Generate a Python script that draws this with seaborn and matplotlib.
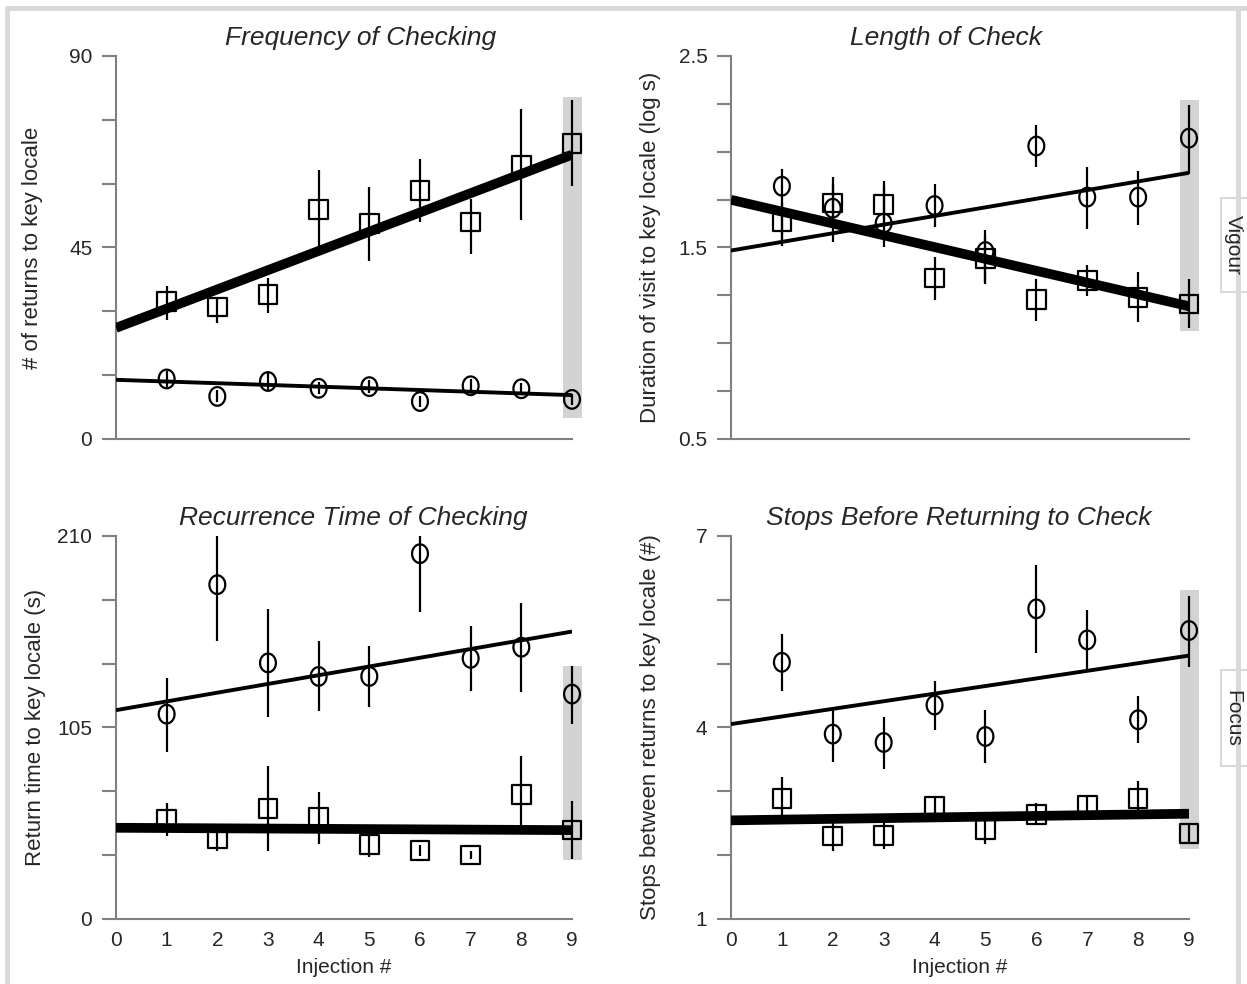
import numpy as np
import pandas as pd
import seaborn as sns
import matplotlib.pyplot as plt
from matplotlib.path import Path
from matplotlib.lines import Line2D
from matplotlib.patches import Rectangle

# Injection number for every plotted session
injection = [1, 2, 3, 4, 5, 6, 7, 8, 9]

# Frequency of checking (# of returns to key locale)
freq_sq = [32.3, 31.0, 33.9, 53.9, 50.7, 58.4, 51.0, 64.4, 69.5]
freq_sq_lo = [28.0, 27.2, 29.6, 45.1, 41.9, 51.0, 43.5, 51.4, 59.4]
freq_sq_hi = [35.9, 33.3, 37.9, 63.1, 59.3, 65.9, 56.4, 77.5, 79.6]
freq_ci = [14.1, 10.0, 13.5, 11.9, 12.3, 8.8, 12.5, 11.8, 9.3]
freq_ci_lo = [12.2, 8.6, 11.6, 10.5, 10.8, 7.6, 11.0, 10.4, 8.0]
freq_ci_hi = [16.0, 11.4, 15.4, 13.3, 13.8, 10.0, 14.0, 13.2, 10.6]
freq_fit_sq = [26.1, 66.8]
freq_fit_ci = [13.9, 10.3]
freq_band = [4.9, 80.4]

# Length of check (log s)
len_sq = [1.636, 1.732, 1.723, 1.340, 1.441, 1.228, 1.327, 1.240, 1.205]
len_sq_lo = [1.53, 1.63, 1.62, 1.226, 1.32, 1.115, 1.249, 1.110, 1.080]
len_sq_hi = [1.74, 1.83, 1.82, 1.449, 1.56, 1.336, 1.411, 1.371, 1.336]
len_ci = [1.820, 1.705, 1.627, 1.719, 1.479, 2.030, 1.763, 1.763, 2.071]
len_ci_lo = [1.510, 1.528, 1.502, 1.606, 1.310, 1.920, 1.597, 1.618, 1.885]
len_ci_hi = [1.908, 1.867, 1.847, 1.829, 1.589, 2.141, 1.920, 1.897, 2.242]
len_fit_sq = [1.749, 1.193]
len_fit_ci = [1.484, 1.890]
len_band = [1.063, 2.268]

# Recurrence time of checking (s)
rec_sq = [54.6, 44.0, 60.7, 55.5, 40.9, 37.6, 35.0, 68.4, 48.7]
rec_sq_lo = [45.4, 37.0, 37.2, 40.9, 34.1, 34.5, 33.0, 46.4, 33.0]
rec_sq_hi = [63.4, 52.0, 83.9, 69.6, 46.4, 40.5, 37.0, 89.4, 64.7]
rec_ci = [112.3, 183.3, 140.4, 133.0, 133.0, 200.3, 142.9, 149.0, 123.3]
rec_ci_lo = [91.8, 152.6, 111.0, 113.8, 116.0, 168.2, 124.8, 124.2, 106.8]
rec_ci_hi = [132.1, 210.0, 169.7, 152.6, 149.9, 210.0, 160.9, 173.4, 138.9]
rec_fit_sq = [50.0, 48.7]
rec_fit_ci = [114.5, 157.6]
rec_band = [32.3, 138.9]

# Stops before returning to check (#)
stop_sq = [2.885, 2.299, 2.309, 2.770, 2.403, 2.639, 2.780, 2.890, 2.340]
stop_sq_lo = [2.613, 2.063, 2.10, 2.613, 2.18, 2.482, 2.613, 2.639, 2.20]
stop_sq_hi = [3.225, 2.53, 2.52, 2.927, 2.62, 2.822, 2.943, 3.162, 2.48]
stop_ci = [5.021, 3.896, 3.765, 4.351, 3.859, 5.859, 5.372, 4.121, 5.519]
stop_ci_lo = [4.576, 3.461, 3.356, 3.964, 3.450, 5.163, 4.917, 3.749, 4.943]
stop_ci_hi = [5.466, 4.288, 4.168, 4.733, 4.272, 6.540, 5.833, 4.498, 6.053]
stop_fit_sq = [2.545, 2.649]
stop_fit_ci = [4.053, 5.126]
stop_band = [2.089, 6.147]

fit_x = [0, 9]
x_ticks = [0, 1, 2, 3, 4, 5, 6, 7, 8, 9]

sns.set_style("white")
plt.rcParams["font.family"] = ["Liberation Sans", "DejaVu Sans"]

GREY = "#808080"

# slightly tall ellipse for the circle markers
t = np.linspace(0, 2 * np.pi, 60)
ellipse = Path(np.column_stack([0.85 * np.cos(t), np.sin(t)]), closed=True)

panels = [
    dict(rect=[0.0930, 0.5539, 0.3657, 0.3892], title="Frequency of Checking", tx=0.537,
         ylabel="# of returns to key locale", lx=-0.160, ylim=(0, 90), step=15, labels=[0, 45, 90],
         sq=(freq_sq, freq_sq_lo, freq_sq_hi), ci=(freq_ci, freq_ci_lo, freq_ci_hi),
         fit_sq=freq_fit_sq, fit_ci=freq_fit_ci, band=freq_band, xlab=False),
    dict(rect=[0.5862, 0.5539, 0.3673, 0.3892], title="Length of Check", tx=0.469,
         ylabel="Duration of visit to key locale (log s)", lx=-0.153, ylim=(0.5, 2.5), step=0.25,
         labels=[0.5, 1.5, 2.5],
         sq=(len_sq, len_sq_lo, len_sq_hi), ci=(len_ci, len_ci_lo, len_ci_hi),
         fit_sq=len_fit_sq, fit_ci=len_fit_ci, band=len_band, xlab=False),
    dict(rect=[0.0930, 0.0661, 0.3657, 0.3892], title="Recurrence Time of Checking", tx=0.52,
         ylabel="Return time to key locale (s)", lx=-0.154, ylim=(0, 210), step=35,
         labels=[0, 105, 210],
         sq=(rec_sq, rec_sq_lo, rec_sq_hi), ci=(rec_ci, rec_ci_lo, rec_ci_hi),
         fit_sq=rec_fit_sq, fit_ci=rec_fit_ci, band=rec_band, xlab=True),
    dict(rect=[0.5862, 0.0661, 0.3673, 0.3892], title="Stops Before Returning to Check", tx=0.498,
         ylabel="Stops between returns to key locale (#)", lx=-0.153, ylim=(1, 7), step=1,
         labels=[1, 4, 7],
         sq=(stop_sq, stop_sq_lo, stop_sq_hi), ci=(stop_ci, stop_ci_lo, stop_ci_hi),
         fit_sq=stop_fit_sq, fit_ci=stop_fit_ci, band=stop_band, xlab=True),
]

fig = plt.figure(figsize=(12.47, 9.84), dpi=100)

for p in panels:
    ax = fig.add_axes(p["rect"])
    ax.set_xlim(0, 9)
    ax.set_ylim(*p["ylim"])

    # grey band highlighting the final injection
    lo, hi = p["band"]
    ax.add_patch(Rectangle((8.83, lo), 0.37, hi - lo, facecolor="#d3d3d3",
                           edgecolor="none", zorder=0, clip_on=False))

    for (vals, v_lo, v_hi), marker in [(p["sq"], "s"), (p["ci"], ellipse)]:
        df = pd.DataFrame({"x": injection, "y": vals, "lo": v_lo, "hi": v_hi})
        ax.vlines(df["x"], df["lo"], df["hi"], color="black", linewidth=1.6,
                  zorder=2, clip_on=False)
        sns.scatterplot(data=df, x="x", y="y", marker=marker, s=180, color="black",
                        linewidth=1.6, ax=ax, zorder=4, legend=False)
        coll = ax.collections[-1]
        coll.set_facecolor("none")
        coll.set_edgecolor("black")
        coll.set_clip_on(False)

    sns.lineplot(x=fit_x, y=p["fit_sq"], color="black", linewidth=7, ax=ax, zorder=3)
    sns.lineplot(x=fit_x, y=p["fit_ci"], color="black", linewidth=2.8, ax=ax, zorder=3)
    for ln in ax.lines:
        ln.set_solid_capstyle("butt")

    sns.despine(ax=ax)
    for side in ("left", "bottom"):
        ax.spines[side].set_color(GREY)
        ax.spines[side].set_linewidth(1.5)

    lo_y, hi_y = p["ylim"]
    yt = np.arange(lo_y, hi_y + p["step"] / 2, p["step"])
    ax.set_yticks(yt)
    ax.set_yticklabels([(f"{v:g}" if any(abs(v - l) < 1e-9 for l in p["labels"]) else "")
                        for v in yt])
    ax.tick_params(axis="y", which="major", left=True, direction="out", length=10,
                   width=1.5, color=GREY, labelsize=15, pad=7)
    ax.set_xticks(x_ticks)
    if p["xlab"]:
        ax.set_xticklabels([str(v) for v in x_ticks])
        ax.set_xlabel("Injection #", fontsize=15, labelpad=6)
    else:
        ax.set_xticklabels([])
        ax.set_xlabel("")
    ax.tick_params(axis="x", bottom=False, labelsize=15, pad=5)

    ax.set_ylabel(p["ylabel"], fontsize=16)
    ax.yaxis.set_label_coords(p["lx"], 0.5)
    ax.set_title(p["title"], fontsize=19, style="italic", x=p["tx"], pad=8)

# outer light-grey frame
frame = "#d9d9d9"
fig.add_artist(Line2D([7 / 1247, 7 / 1247], [0, 1 - 8 / 984], color=frame, linewidth=3.5))
fig.add_artist(Line2D([7 / 1247, 1], [1 - 8 / 984, 1 - 8 / 984], color=frame, linewidth=3.5))
fig.add_artist(Line2D([1238 / 1247, 1238 / 1247], [0, 1 - 8 / 984], color=frame, linewidth=3.5))

# side labels
for label, top, bottom in [("Vigour", 198, 292), ("Focus", 670, 766)]:
    fig.add_artist(Rectangle((1221 / 1247, 1 - bottom / 984), 40 / 1247, (bottom - top) / 984,
                             transform=fig.transFigure, facecolor="white",
                             edgecolor=frame, linewidth=1.5))
    fig.text(1233 / 1247, 1 - (top + bottom) / 2 / 984, label, rotation=270,
             ha="center", va="center", fontsize=15)

fig.savefig("out.png", dpi=100)
